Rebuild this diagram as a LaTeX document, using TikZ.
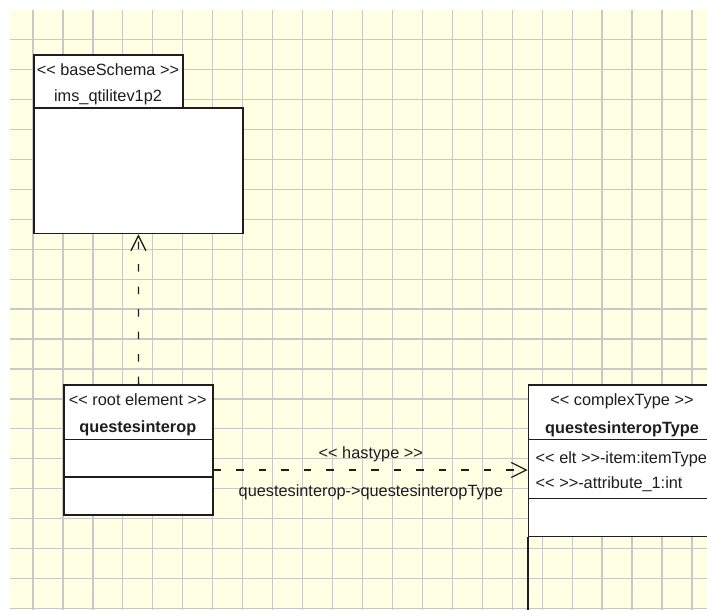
\documentclass[tikz,border=0pt]{standalone}
\usepackage{fontspec}
% a plain family, without TeX ligatures, so that << and >> stay as typed
\newfontfamily\umlfont{Liberation Sans}
\usetikzlibrary{arrows.meta}
\definecolor{paper}{RGB}{255,255,228}
\definecolor{gridline}{RGB}{200,200,200}
\definecolor{ink}{RGB}{30,30,30}
\begin{document}
\begin{tikzpicture}[x=1pt,y=-1pt,
  box/.style={draw=ink, line width=1.6pt, fill=white, inner sep=0pt, anchor=north west},
  rule/.style={draw=ink, line width=1.6pt},
  txt/.style={inner sep=0pt, anchor=base, text=ink, font=\umlfont\fontsize{16.3}{19}\selectfont},
  boldtxt/.style={txt, font=\umlfont\fontsize{16.3}{19}\selectfont\bfseries},
  attr/.style={txt, anchor=base west},
  gridln/.style={draw=gridline, line width=1.2pt},
  dep/.style={draw=ink, line width=1.3pt, dash pattern=on 7.5pt off 15pt,
    -{Straight Barb[length=15pt,width=15pt,line join=miter]}},
]
\useasboundingbox (0,0) rectangle (707,610);
\begin{scope}
\clip (0,0) rectangle (707,610);
% drawing sheet with its grid
\fill[white] (0,0) rectangle (707,610);
\fill[paper] (10,10) rectangle (707,610);
\foreach \k in {0,...,22}
  \draw[gridln] ({33+29.95*\k},10) -- ({33+29.95*\k},610);
\foreach \k in {0,...,19}
  \draw[gridln] (10,{39.5+29.95*\k}) -- (707,{39.5+29.95*\k});

% base schema package
\node[box, minimum width=149pt, minimum height=53pt] (pkgtab) at (33,54.3) {};
\node[box, minimum width=209.3pt, minimum height=125.4pt] (pkgbody) at (33,107.3) {};
\node[txt] (pkgstereo) at (108,76) {<< baseSchema >>};
\node[txt] (pkgname) at (108,102) {ims\_qtilitev1p2};

% root element class
\node[box, minimum width=149pt, minimum height=130pt] (root) at (63.3,384) {};
\draw[rule] ([yshift=-55.3pt]root.north west) -- ([yshift=-55.3pt]root.north east);
\draw[rule] ([yshift=-92.7pt]root.north west) -- ([yshift=-92.7pt]root.north east);
\node[txt] (rootstereo) at (137.8,405) {<< root element >>};
\node[boldtxt] (rootname) at (137.8,432) {questesinterop};

% complex type class
\node[box, minimum width=188pt, minimum height=151.7pt] (ctype) at (527.7,384) {};
\draw[rule] ([yshift=-55.3pt]ctype.north west) -- ([yshift=-55.3pt]ctype.north east);
\draw[rule] ([yshift=-114.3pt]ctype.north west) -- ([yshift=-114.3pt]ctype.north east);
\node[txt] (ctstereo) at (622,405) {<< complexType >>};
\node[boldtxt] (ctname) at (622,433) {questesinteropType};
\node[attr] (ctattra) at (535.5,463.3) {<< elt >>-item:itemType};
\node[attr] (ctattrb) at (535.5,488.3) {<< >>-attribute\_1:int};
\coordinate (sheetbottom) at (0,610);
\draw[rule] (ctype.south west) -- (ctype.south west |- sheetbottom);

% dependencies
\draw[dep] (root.north) -- (pkgbody.south);
\coordinate (hy) at (0,470);
\draw[dep] (root.east |- hy) -- (ctype.west |- hy)
  node[txt, midway, yshift=12pt] (hastype) {<< hastype >>}
  node[txt, midway, yshift=-26pt] (hastypename) {questesinterop->questesinteropType};
\end{scope}
\end{tikzpicture}
\end{document}
